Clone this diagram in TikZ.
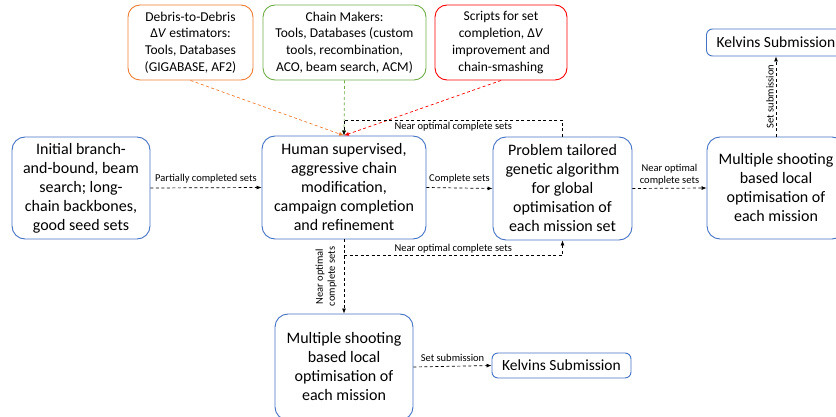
\documentclass[tikz,border=0pt]{standalone}
\usepackage{fontspec}
\setmainfont{Carlito}
\usetikzlibrary{arrows.meta}
\definecolor{boxblue}{HTML}{4472C4}
\definecolor{toolorange}{HTML}{ED7D31}
\definecolor{toolgreen}{HTML}{70AD47}
\definecolor{toolred}{HTML}{FF0000}
\tikzset{
  stage/.style={draw=boxblue, line width=0.9pt, rounded corners=13pt, align=center,
    font=\fontsize{16}{19}\selectfont, inner sep=0pt},
  toolbox/.style={line width=0.9pt, rounded corners=12pt, align=center,
    font=\fontsize{13.5}{16.8}\selectfont, inner sep=0pt,
    minimum height=75pt},
  submitbox/.style={draw=boxblue, line width=0.9pt, rounded corners=6pt, align=center,
    font=\fontsize{15.5}{18}\selectfont, inner sep=0pt, minimum width=139pt},
  flow/.style={dashed, dash pattern=on 3pt off 2.5pt, line width=0.7pt,
    -{Latex[length=5pt,width=4pt]}},
  lbl/.style={font=\fontsize{10.5}{12}\selectfont, align=center, inner sep=1pt},
}
\begin{document}
\begin{tikzpicture}[x=1pt,y=-1pt]
\useasboundingbox (0,0) rectangle (836,417);
\clip (0,0) rectangle (836,417);

% tool boxes
\node[toolbox, draw=toolorange, minimum width=125pt] (dv) at (190.5,42.5)
  {Debris-to-Debris\\Δ\textit{V} estimators:\\Tools, Databases\\(GIGABASE, AF2)};
\node[toolbox, draw=toolgreen, minimum width=163pt] (cm) at (344.5,42.5)
  {Chain Makers:\\Tools, Databases (custom\\tools, recombination,\\ACO, beam search, ACM)};
\node[toolbox, draw=toolred, minimum width=132pt] (sc) at (501,42.5)
  {Scripts for set\\completion, Δ\textit{V}\\improvement and\\chain-smashing};

% pipeline stages
\node[stage, minimum width=138pt, minimum height=102pt] (init) at (81,188)
  {Initial branch-\\and-bound, beam\\search; long-\\chain backbones,\\good seed sets};
\node[stage, minimum width=164pt, minimum height=103pt] (human) at (344,187.5)
  {Human supervised,\\aggressive chain\\modification,\\campaign completion\\and refinement};
\node[stage, minimum width=139pt, minimum height=103pt] (ga) at (562.5,188.5)
  {Problem tailored\\genetic algorithm\\for global\\optimisation of\\each mission set};
\node[stage, minimum width=138pt, minimum height=102pt] (msr) at (776,188)
  {Multiple shooting\\based local\\optimisation of\\each mission};
\node[stage, minimum width=138pt, minimum height=106pt] (msb) at (344,367)
  {Multiple shooting\\based local\\optimisation of\\each mission};

% submissions
\node[submitbox, minimum height=27pt] (kt) at (776,42.5) {Kelvins Submission};
\node[submitbox, minimum height=25pt] (kb) at (561.5,365.5) {Kelvins Submission};

% tool feeds into the human stage
\draw[flow, draw=toolorange, -{Latex[length=5pt,width=4pt,fill=toolorange]}] (dv.south) -- (human.north);
\draw[flow, draw=toolgreen] (cm.south) -- (human.north);
\draw[flow, draw=toolred] (sc.south) -- (human.north);

% main flow
\draw[flow] (init.east) -- node[lbl, above=3pt] {Partially completed sets} (human.west);
\draw[flow] (human.east) -- node[lbl, above=3pt] {Complete sets} (ga.west);
\draw[flow] (ga.east) -- node[lbl, above=2pt] {Near optimal\\complete sets} (msr.west);
\draw[flow] (msr.north) -- node[lbl, rotate=90, above=1pt] {Set submission} (kt.south);
\draw[flow] (msb.east) -- node[lbl, above=3pt] {Set submission} (kb.west);

% feedback loops
\coordinate (topR) at (ga.north |- 0,120);
\coordinate (topL) at (human.north |- 0,120);
\draw[flow] (ga.north) -- (topR) -- node[lbl, below=1pt] {Near optimal complete sets} (topL) -- (human.north);
\draw[flow] (human.south) -- node[lbl, rotate=90, above=6pt, pos=0.5] {Near optimal\\complete sets} (msb.north);
\coordinate (botL) at (human.south |- 0,255);
\coordinate (botR) at (ga.south |- 0,255);
\draw[flow] (botL) -- node[lbl, above=0pt] {Near optimal complete sets} (botR) -- (ga.south);
\end{tikzpicture}
\end{document}
